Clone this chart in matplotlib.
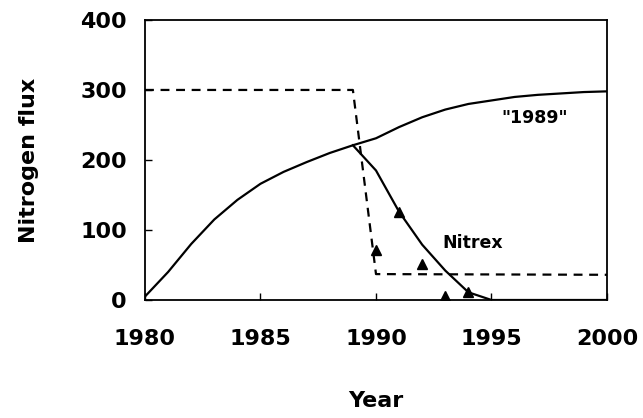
import matplotlib
matplotlib.use("Agg")
import matplotlib.pyplot as plt

# Data
base_years = list(range(1980, 2001))
base_flux = [5, 40, 80, 115, 143, 166, 183, 197, 210, 221, 231, 247, 261, 272, 280, 285, 290, 293, 295, 297, 298]

nitrex_years = [1989, 1990, 1991, 1992, 1993, 1994, 1995, 2000]
nitrex_flux = [221, 185, 126, 79, 42, 11, 0, 0]

scen_years = [1980, 1989, 1990, 2000]
scen_flux = [300, 300, 37, 36]

obs_years = [1990, 1991, 1992, 1993, 1994]
obs_flux = [71, 126, 52, 5, 11]

x_ticks = [1980, 1985, 1990, 1995, 2000]
y_ticks = [0, 100, 200, 300, 400]

plt.rcParams['font.family'] = ['DejaVu Sans']
plt.rcParams['font.weight'] = 'bold'

fig = plt.figure(figsize=(6.43, 4.18), dpi=100)
ax = fig.add_axes([0.2255, 0.2823, 0.7185, 0.67])

ax.plot(base_years, base_flux, color='black', lw=1.6, solid_joinstyle='round')
ax.plot(nitrex_years, nitrex_flux, color='black', lw=1.6)
ax.plot(scen_years, scen_flux, color='black', lw=1.6, linestyle=(0, (4, 3)))
ax.plot(obs_years, obs_flux, linestyle='none', marker='^', color='black', markersize=7)

ax.text(1996.85, 260, '"1989"', ha='center', va='center', fontsize=12.5, fontweight='bold')
ax.text(1994.2, 81, 'Nitrex', ha='center', va='center', fontsize=12.5, fontweight='bold')

ax.set_xlim(1980, 2000)
ax.set_ylim(0, 400)
ax.set_xticks(x_ticks)
ax.set_yticks(y_ticks)
ax.set_xticklabels([str(t) for t in x_ticks], fontsize=16, fontweight='bold')
ax.set_yticklabels([str(t) for t in y_ticks], fontsize=16, fontweight='bold')
ax.tick_params(axis='both', direction='in', length=5, width=1)
ax.tick_params(axis='x', pad=21)
ax.tick_params(axis='y', pad=13)
for s in ax.spines.values():
    s.set_linewidth(1.3)

ax.set_xlabel('Year', fontsize=16, fontweight='bold', labelpad=30)
ax.set_ylabel('Nitrogen flux', fontsize=16, fontweight='bold', labelpad=30)

fig.savefig('out.png', dpi=100)
